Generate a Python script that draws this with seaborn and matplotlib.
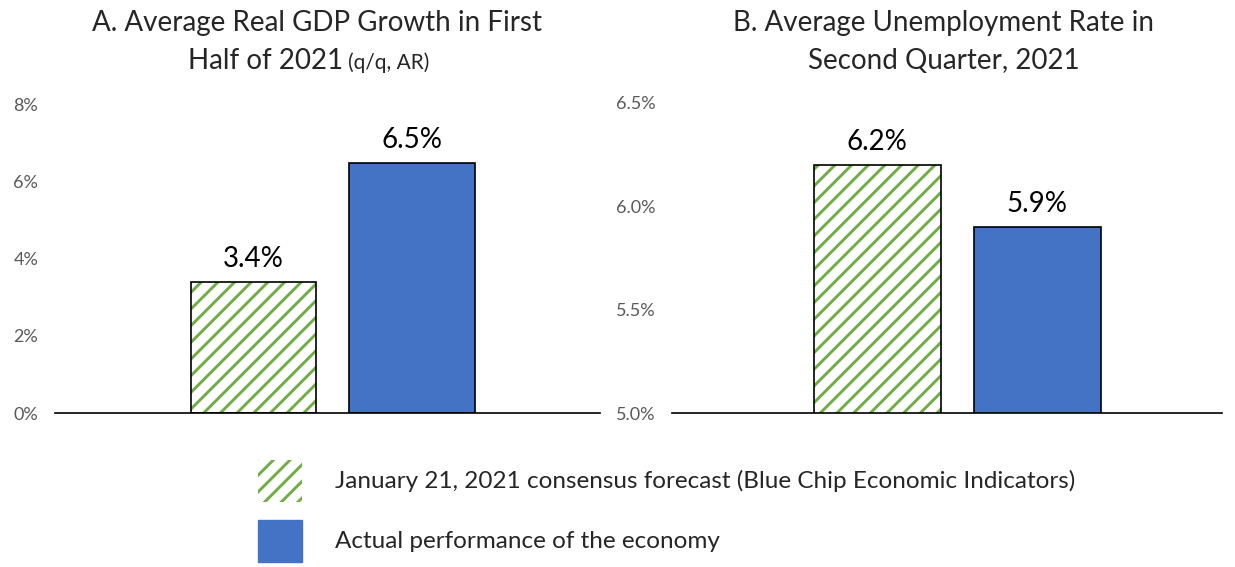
import matplotlib
matplotlib.use('Agg')
import matplotlib.pyplot as plt
import seaborn as sns
import pandas as pd
from matplotlib.patches import Rectangle, Patch
from matplotlib.ticker import FuncFormatter

# datos
series = ['January 21, 2021 consensus forecast (Blue Chip Economic Indicators)',
          'Actual performance of the economy']
gdp_values = [3.4, 6.5]
unemp_values = [6.2, 5.9]
gdp_ticks = [0, 2, 4, 6, 8]
unemp_ticks = [5.0, 5.5, 6.0, 6.5]

green = '#70AD47'
blue = '#4472C4'
grey = '#595959'

sns.set_style('white')
plt.rcParams['font.family'] = ['Lato', 'DejaVu Sans']
plt.rcParams['hatch.linewidth'] = 2.1

fig = plt.figure(figsize=(12.35, 5.67), dpi=100)
ax1 = fig.add_axes([0.0445, 0.2716, 0.4413, 0.5433])
ax2 = fig.add_axes([0.5441, 0.2716, 0.4453, 0.5468])


def draw_panel(ax, values, ticks, fmt, xlim):
    df = pd.DataFrame({'serie': series, 'valor': values})
    sns.barplot(data=df, x='serie', y='valor', hue='serie',
                palette=[green, blue], width=0.79, ax=ax, legend=False,
                saturation=1)
    bars = list(ax.patches)
    # barra del pronostico: rayas verdes con borde negro
    bars[0].set_facecolor('white')
    bars[0].set_edgecolor(green)
    bars[0].set_hatch('//')
    bars[0].set_linewidth(0)
    ax.add_patch(Rectangle(bars[0].get_xy(), bars[0].get_width(), bars[0].get_height(),
                           fill=False, edgecolor='black', linewidth=1.2))
    bars[1].set_edgecolor('black')
    bars[1].set_linewidth(1.2)
    for c in ax.containers:
        ax.bar_label(c, fmt='%.1f%%', padding=7, fontsize=20, color='black')
    ax.set_ylim(ticks[0], ticks[-1])
    ax.set_yticks(ticks)
    ax.yaxis.set_major_formatter(FuncFormatter(lambda v, p: fmt.format(v)))
    ax.set_xlim(*xlim)
    ax.set_xticks([])
    ax.set_xlabel('')
    ax.set_ylabel('')
    ax.tick_params(axis='y', length=0, labelsize=13, labelcolor=grey, pad=12)
    for s in ['left', 'right', 'top']:
        ax.spines[s].set_visible(False)
    ax.spines['bottom'].set_color('black')
    ax.spines['bottom'].set_linewidth(1.2)


draw_panel(ax1, gdp_values, gdp_ticks, '{:.0f}%', (-1.252, 2.186))
draw_panel(ax2, unemp_values, unemp_ticks, '{:.1f}%', (-1.284, 2.153))
for lbl in ax1.get_yticklabels():
    lbl.set_horizontalalignment('left')
ax1.tick_params(axis='y', pad=30)

# titulos
fig.text(0.257, 0.959, 'A. Average Real GDP Growth in First', ha='center', va='center', fontsize=20)
fig.text(0.278, 0.892, 'Half of 2021', ha='right', va='center', fontsize=20)
fig.text(0.282, 0.890, '(q/q, AR)', ha='left', va='center', fontsize=15)
fig.text(0.764, 0.959, 'B. Average Unemployment Rate in', ha='center', va='center', fontsize=20)
fig.text(0.764, 0.892, 'Second Quarter, 2021', ha='center', va='center', fontsize=20)

# leyenda
handles = [Patch(facecolor='white', edgecolor=green, hatch='//', linewidth=0),
           Patch(facecolor=blue, edgecolor=blue)]
leg = fig.legend(handles, series, loc='upper left', bbox_to_anchor=(0.209, 0.189),
                 frameon=False, fontsize=17.5, handlelength=1.81, handleheight=2.28,
                 labelspacing=0.74, handletextpad=1.36, borderpad=0, borderaxespad=0)

fig.savefig('out.png', dpi=100)
